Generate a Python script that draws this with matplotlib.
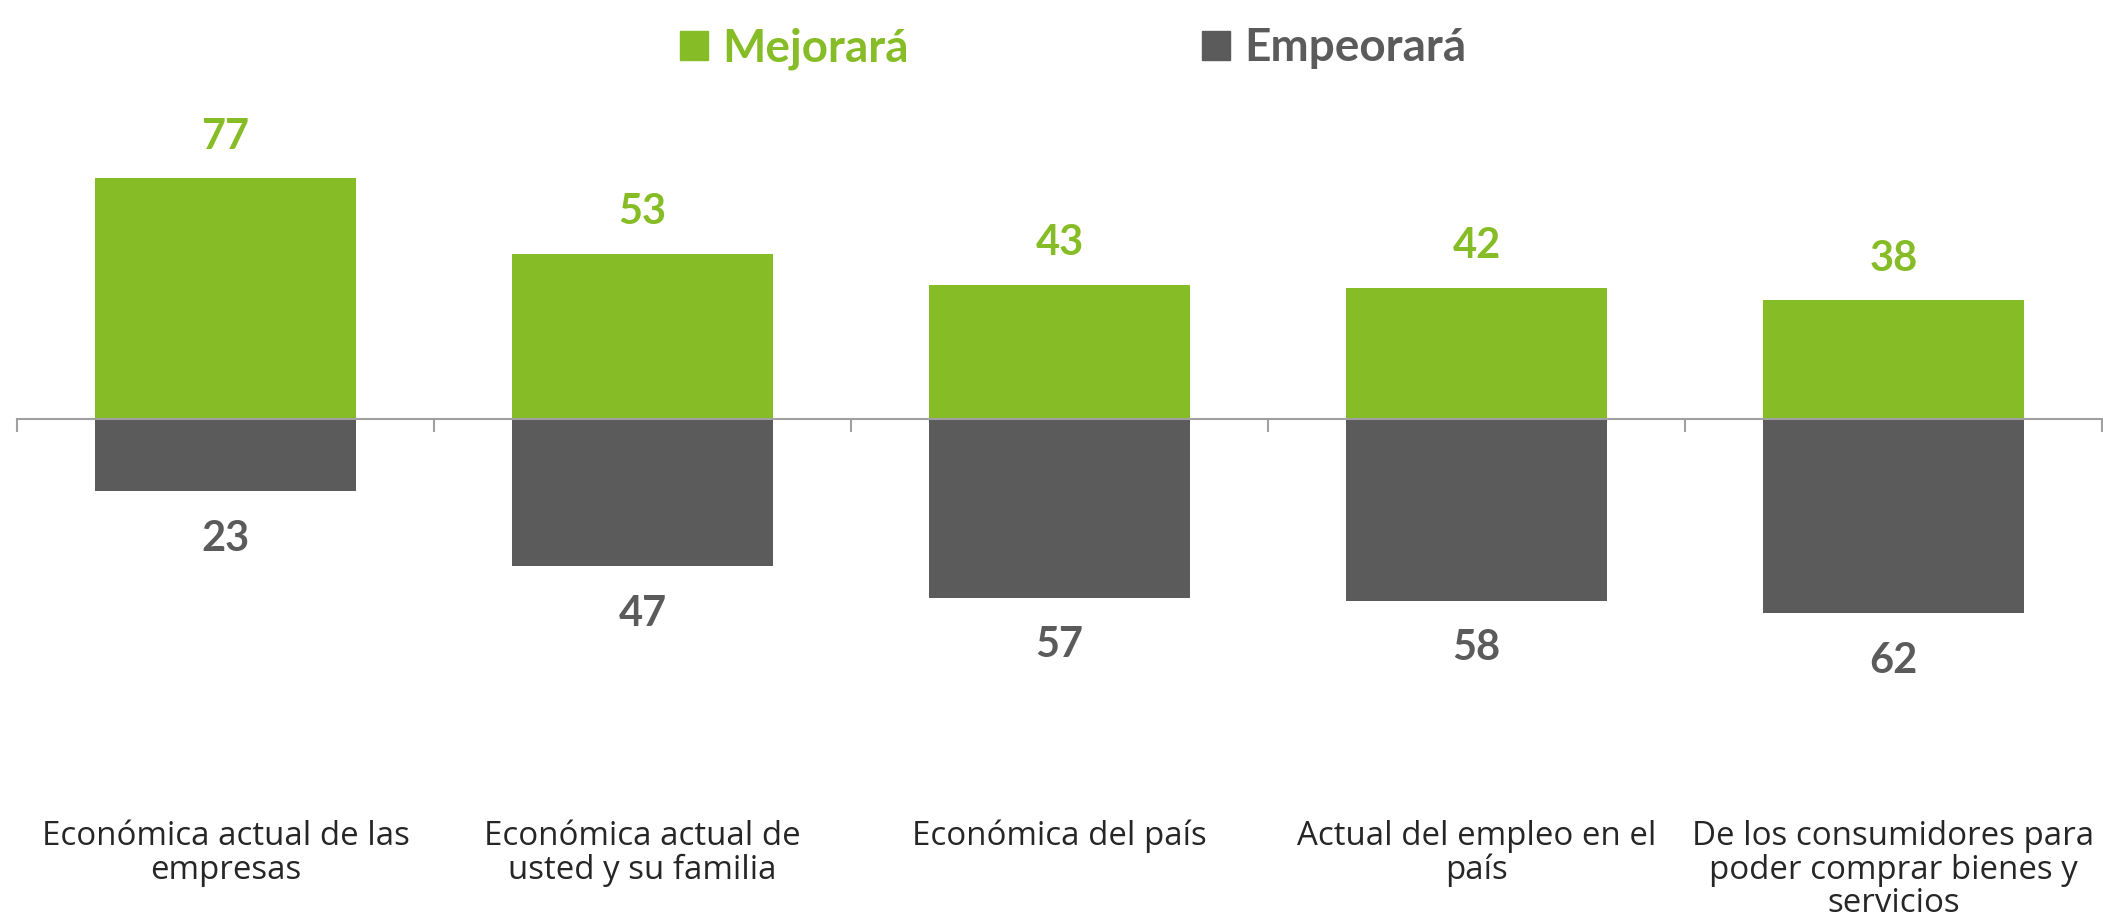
import numpy as np
import matplotlib
matplotlib.use("Agg")
import matplotlib.pyplot as plt
from matplotlib.patches import Patch

# data
categories = [
    "Económica actual de las\nempresas",
    "Económica actual de\nusted y su familia",
    "Económica del país",
    "Actual del empleo en el\npaís",
    "De los consumidores para\npoder comprar bienes y\nservicios",
]
mejorara = [77, 53, 43, 42, 38]
empeorara = [23, 47, 57, 58, 62]
series_names = ["Mejorará", "Empeorará"]

green = "#86BC25"
gray = "#5B5B5B"

plt.rcParams['font.family'] = ['Lato', 'DejaVu Sans']

fig = plt.figure(figsize=(21.03, 9.17), dpi=100)
ax = fig.add_axes([17 / 2103, 0.0, 2085 / 2103, 1.0])

x = np.arange(len(categories))
ax.bar(x, mejorara, width=0.624, color=green)
ax.bar(x, [-v for v in empeorara], width=0.624, color=gray)

ax.set_xlim(-0.5, len(categories) - 0.5)
ax.set_ylim(-159, 134)

# zero axis with ticks between categories
for s in ["left", "right", "top"]:
    ax.spines[s].set_visible(False)
ax.spines["bottom"].set_position(("data", 0))
ax.spines["bottom"].set_color("#a0a0a0")
ax.spines["bottom"].set_linewidth(1.5)
ax.set_yticks([])
ax.set_xticks(np.arange(-0.5, len(categories), 1.0))
ax.set_xticklabels([])
ax.tick_params(axis="x", length=9, width=1.5, color="#a0a0a0", direction="out")

for i in range(len(categories)):
    ax.annotate(str(mejorara[i]), (x[i], mejorara[i]), xytext=(0, 30),
                textcoords="offset points", ha="center", va="center",
                fontsize=30, fontweight="bold", color=green)
    ax.annotate(str(empeorara[i]), (x[i], -empeorara[i]), xytext=(0, -34),
                textcoords="offset points", ha="center", va="center",
                fontsize=30, fontweight="bold", color=gray)
    ax.text(x[i], -128, categories[i], ha="center", va="top",
            multialignment="center", fontsize=23.8, color="#262626",
            family=["Open Sans", "DejaVu Sans"], linespacing=1.03)

handles = [Patch(color=green), Patch(color=gray)]
leg = fig.legend(handles, series_names, loc="upper center",
                 bbox_to_anchor=(1073 / 2103, 1.015), ncol=2, frameon=False,
                 fontsize=33, handlelength=0.62, handleheight=0.62,
                 handletextpad=0.3, columnspacing=6.4)
for t, c in zip(leg.get_texts(), [green, gray]):
    t.set_color(c)
    t.set_fontweight("bold")

fig.savefig("out.png", dpi=100)
